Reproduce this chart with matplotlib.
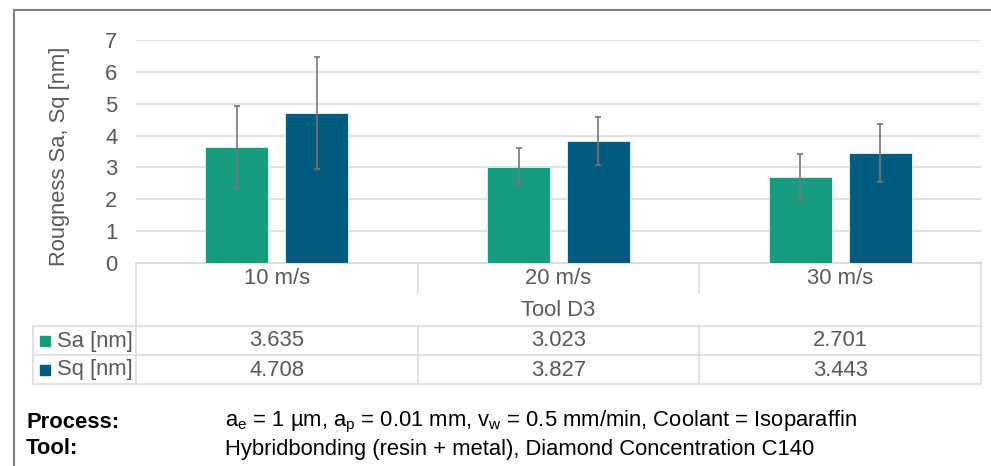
import matplotlib.pyplot as plt
import matplotlib.transforms as mtransforms
import numpy as np

plt.rcParams["font.family"] = ["Liberation Sans", "DejaVu Sans"]
plt.rcParams["mathtext.fontset"] = "custom"
plt.rcParams["mathtext.rm"] = "Liberation Sans"
plt.rcParams["mathtext.it"] = "Liberation Sans:italic"

categories = ["10 m/s", "20 m/s", "30 m/s"]
group_label = "Tool D3"
sa = [3.635, 3.023, 2.701]
sq = [4.708, 3.827, 3.443]
sa_err = [1.29, 0.58, 0.72]
sq_err = [1.76, 0.76, 0.91]
series_names = ["Sa [nm]", "Sq [nm]"]
process_text = (r"a$_\mathrm{e}$ = 1 µm, a$_\mathrm{p}$ = 0.01 mm, "
                r"v$_\mathrm{w}$ = 0.5 mm/min, Coolant = Isoparaffin")
tool_text = "Hybridbonding (resin + metal), Diamond Concentration C140"

GREEN = "#179C7D"
BLUE = "#005B7F"
GRID = "#D9D9D9"
TXT = "#595959"
FS = 15.8

W, H = 991, 466
fig = plt.figure(figsize=(W / 100, H / 100), dpi=100)

# overlay in pixel coordinates for frame / table / notes
ov = fig.add_axes([0, 0, 1, 1], zorder=0)
ov.set_xlim(0, W)
ov.set_ylim(H, 0)
ov.axis("off")

x0, x1, y_top, y_zero = 136, 981, 40, 263
ax = fig.add_axes([x0 / W, 1 - y_zero / H, (x1 - x0) / W, (y_zero - y_top) / H], zorder=1)
ax.patch.set_alpha(0)

x = np.arange(len(categories))
bw, off = 0.224, 0.142
ax.bar(x - off, sa, bw, color=GREEN, edgecolor="#D6ECEC", linewidth=0.7, zorder=2)
ax.bar(x + off, sq, bw, color=BLUE, edgecolor="#D6ECEC", linewidth=0.7, zorder=2)
ax.errorbar(x - off, sa, yerr=sa_err, fmt="none", ecolor="#767676", elinewidth=1.2,
            capsize=2.5, capthick=1.2, zorder=3)
ax.errorbar(x + off, sq, yerr=sq_err, fmt="none", ecolor="#767676", elinewidth=1.2,
            capsize=2.5, capthick=1.2, zorder=3)

ax.set_xlim(-0.5, len(categories) - 0.5)
ax.set_ylim(0, 7)
ax.set_yticks(range(0, 8))
ax.set_xticks([])
ax.grid(axis="y", color=GRID, linewidth=1.1, zorder=0)
for s in ax.spines.values():
    s.set_visible(False)
ax.tick_params(axis="y", length=0, pad=13.5, labelsize=FS, labelcolor=TXT)
ax.set_ylabel("Rougness Sa, Sq [nm]", fontsize=FS, color=TXT)
ax.yaxis.set_label_coords(-0.078, 0.48)

# table: x from bar axes data, y from pixel overlay
tr = mtransforms.blended_transform_factory(ax.transData, ov.transData)
n = len(categories)
lkw = dict(color=GRID, linewidth=1.1, transform=tr, zorder=1)
y_hdr, y_tool, y_r1, y_r2, y_bot = 263, 293, 326, 355, 384
ov.plot([-0.5, n - 0.5], [y_hdr, y_hdr], **lkw)
for y in (y_r1, y_r2, y_bot):
    ov.plot([-0.5, n - 0.5], [y, y], **lkw)
ov.plot([-0.5, -0.5], [y_hdr, y_bot], **lkw)
ov.plot([n - 0.5, n - 0.5], [y_hdr, y_bot], **lkw)
for b in np.arange(0.5, n - 0.5):
    ov.plot([b, b], [y_hdr, y_tool], **lkw)
    ov.plot([b, b], [y_r1, y_bot], **lkw)
# legend column
ov.plot([33, 136], [y_r1, y_r1], color=GRID, linewidth=1.1)
ov.plot([33, 136], [y_r2, y_r2], color=GRID, linewidth=1.1)
ov.plot([33, 136], [y_bot, y_bot], color=GRID, linewidth=1.1)
ov.plot([33, 33], [y_r1, y_bot], color=GRID, linewidth=1.1)

for i, c in enumerate(categories):
    ov.text(i, 279, c, transform=tr, ha="center", va="center", fontsize=FS, color=TXT)
    ov.text(i, 341, f"{sa[i]:.3f}", transform=tr, ha="center", va="center", fontsize=FS, color=TXT)
    ov.text(i, 370, f"{sq[i]:.3f}", transform=tr, ha="center", va="center", fontsize=FS, color=TXT)
ov.text((n - 1) / 2, 310, group_label, transform=tr, ha="center", va="center", fontsize=FS, color=TXT)

for name, col, yy in zip(series_names, [GREEN, BLUE], [341, 370]):
    ov.plot([45], [yy], marker="s", markersize=7.5, color=col, linestyle="none")
    ov.text(57, yy, name, ha="left", va="center", fontsize=FS, color=TXT)

# outer frame (top + left only)
ov.plot([14, W], [10, 10], color="#808080", linewidth=1.5)
ov.plot([14, 14], [10, H], color="#808080", linewidth=1.5)

# notes
ov.text(26, 422, "Process:", ha="left", va="center", fontsize=FS, fontweight="bold", color="black")
ov.text(26, 449, "Tool:", ha="left", va="center", fontsize=FS, fontweight="bold", color="black")
ov.text(225, 422, process_text, ha="left", va="center", fontsize=FS, color="black")
ov.text(225, 449, tool_text, ha="left", va="center", fontsize=FS, color="black")

fig.savefig("out.png", dpi=100)
